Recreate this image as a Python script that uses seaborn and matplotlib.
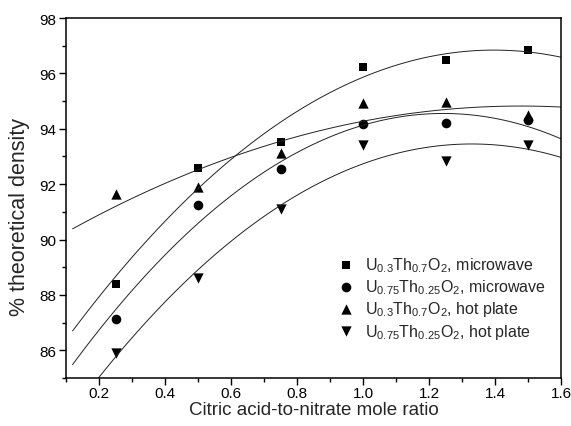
import numpy as np
import pandas as pd
import matplotlib
matplotlib.use("Agg")
import matplotlib.pyplot as plt
from matplotlib.ticker import MultipleLocator, FormatStrFormatter
import seaborn as sns

# ---- data ----
ratio = [0.25, 0.50, 0.75, 1.00, 1.25, 1.50]
u03_microwave = [88.40, 92.57, 93.52, 96.23, 96.50, 96.86]
u075_microwave = [87.14, 91.24, 92.55, 94.18, 94.20, 94.30]
u03_hotplate = [91.63, 91.90, 93.12, 94.93, 94.97, 94.50]
u075_hotplate = [85.90, 88.61, 91.12, 93.42, 92.85, 93.40]

labels = [
    r"U$_{0.3}$Th$_{0.7}$O$_{2}$, microwave",
    r"U$_{0.75}$Th$_{0.25}$O$_{2}$, microwave",
    r"U$_{0.3}$Th$_{0.7}$O$_{2}$, hot plate",
    r"U$_{0.75}$Th$_{0.25}$O$_{2}$, hot plate",
]
series = [u03_microwave, u075_microwave, u03_hotplate, u075_hotplate]
markers = ["s", "o", "^", "v"]
sizes = [40, 48, 55, 55]

sns.set_theme(style="ticks")
plt.rcParams["font.family"] = ["Liberation Sans", "DejaVu Sans"]
plt.rcParams["mathtext.fontset"] = "custom"
plt.rcParams["mathtext.rm"] = "Liberation Sans"
plt.rcParams["mathtext.it"] = "Liberation Sans"
plt.rcParams["mathtext.bf"] = "Liberation Sans:bold"

fig = plt.figure(figsize=(5.71, 4.27), dpi=100)
ax = fig.add_axes([0.1156, 0.1124, 0.8669, 0.8431])

# fit lines span from 0.12 to 1.6 like the reference
ax.set_xlim(0.12, 1.6)
ax.set_ylim(85, 98)

for vals, lab, mk, sz in zip(series, labels, markers, sizes):
    df = pd.DataFrame({"ratio": ratio, "density": vals})
    sns.regplot(data=df, x="ratio", y="density", order=2, ci=None,
                truncate=False, marker=mk, color="black", label=lab,
                scatter_kws=dict(s=sz, linewidths=0, alpha=1),
                line_kws=dict(lw=0.7, color="#222222"), ax=ax)

ax.set_xlim(0.1, 1.6)
ax.set_ylim(85, 98)

ax.xaxis.set_major_locator(MultipleLocator(0.2))
ax.xaxis.set_minor_locator(MultipleLocator(0.1))
ax.xaxis.set_major_formatter(FormatStrFormatter("%.1f"))
ax.yaxis.set_major_locator(MultipleLocator(2))
ax.yaxis.set_minor_locator(MultipleLocator(1))

ax.tick_params(axis="both", which="major", direction="out", length=5,
               width=1, labelsize=11, colors="black", pad=2)
ax.tick_params(axis="x", which="major", pad=1)
ax.tick_params(axis="both", which="minor", direction="out", length=3,
               width=1, colors="black")
ax.tick_params(top=False, right=False, which="both")
for sp in ax.spines.values():
    sp.set_visible(True)
    sp.set_linewidth(1.1)
    sp.set_color("black")

ax.set_xlabel("Citric acid-to-nitrate mole ratio", fontsize=13.5)
ax.xaxis.set_label_coords(0.5, -0.065)
ax.set_ylabel("% theoretical density", fontsize=15.5)
ax.yaxis.set_label_coords(-0.072, 0.45)

ax.legend(loc="upper left", bbox_to_anchor=(0.55, 0.34), frameon=False,
          fontsize=11.5, handlelength=1.0, handletextpad=0.7,
          labelspacing=0.2, borderpad=0, borderaxespad=0)

fig.savefig("out.png", dpi=100)
